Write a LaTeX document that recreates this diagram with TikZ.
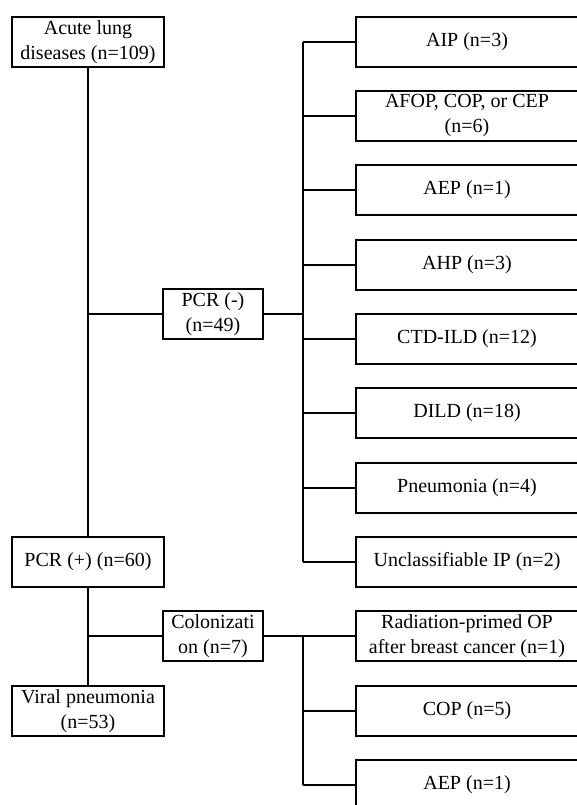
\documentclass[tikz,border=0pt]{standalone}
\usepackage{fontspec}
\setmainfont{Liberation Serif}
\begin{document}
\begin{tikzpicture}[x=1pt,y=-1pt,
  box/.style={draw, line width=2.2pt, minimum height=50pt, inner sep=0pt, align=center,
    font=\fontsize{20}{25}\selectfont},
  lbox/.style={box, minimum width=152pt},
  mbox/.style={box, minimum width=100pt},
  rbox/.style={box, minimum width=222pt},
  link/.style={line width=2.2pt}]
\useasboundingbox (0,0) rectangle (576,805);
% left column
\node[lbox] (acute) at (88,42) {Acute lung\\diseases (n=109)};
\node[mbox] (pcrm) at (213,314) {PCR (-)\\(n=49)};
\node[lbox] (pcrp) at (88,562) {PCR (+) (n=60)};
\node[mbox] (col) at (213,636) {Colonizati\\on (n=7)};
\node[lbox] (viral) at (88,711) {Viral pneumonia\\(n=53)};
% right column
\node[rbox] (aip) at (467,42) {AIP (n=3)};
\node[rbox] (afop) at (467,116) {AFOP, COP, or CEP\\(n=6)};
\node[rbox] (aep) at (467,190) {AEP (n=1)};
\node[rbox] (ahp) at (467,265) {AHP (n=3)};
\node[rbox] (ctd) at (467,339) {CTD-ILD (n=12)};
\node[rbox] (dild) at (467,413) {DILD (n=18)};
\node[rbox] (pneu) at (467,488) {Pneumonia (n=4)};
\node[rbox] (unc) at (467,562) {Unclassifiable IP (n=2)};
\node[rbox] (rad) at (467,636) {Radiation-primed OP\\after breast cancer (n=1)};
\node[rbox] (cop) at (467,711) {COP (n=5)};
\node[rbox] (aep2) at (467,785) {AEP (n=1)};
\coordinate (t1) at (303,314);
\coordinate (t2) at (303,636);
% connectors
\draw[link] (acute.south) -- (pcrp.north);
\draw[link] (pcrm.west -| acute.south) -- (pcrm.west);
\draw[link] (pcrp.south) -- (viral.north);
\draw[link] (col.west -| pcrp.south) -- (col.west);
\draw[link] (pcrm.east) -- (t1);
\draw[link] (aip.west -| t1) -- (unc.west -| t1);
\foreach \n in {aip,afop,aep,ahp,ctd,dild,pneu,unc}
  \draw[link] (\n.west -| t1) -- (\n.west);
\draw[link] (col.east) -- (t2);
\draw[link] (t2) -- (aep2.west -| t2);
\foreach \n in {rad,cop,aep2}
  \draw[link] (\n.west -| t2) -- (\n.west);
\end{tikzpicture}
\end{document}
